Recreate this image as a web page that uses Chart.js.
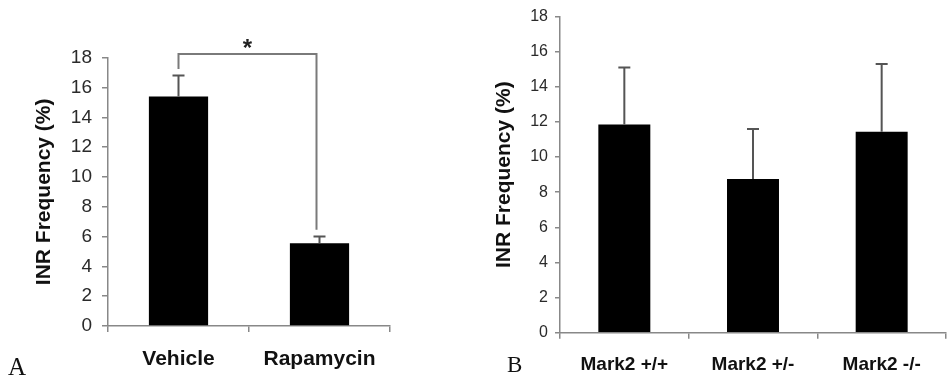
<!DOCTYPE html>
<html>
<head>
<meta charset="utf-8">
<script src="https://cdn.jsdelivr.net/npm/chart.js@4"></script>
<style>
  body { margin: 0; background: #fff; }
  #wrap { position: relative; width: 947px; height: 380px; overflow: hidden; }
  #chartA { position: absolute; left: 0; top: 0; }
  #chartB { position: absolute; left: 480px; top: 0; }
  .panel { position: absolute; font-family: 'Times New Roman', 'Liberation Serif', serif; line-height: 1; color: #111; }
</style>
</head>
<body>
<div id="wrap">
  <canvas id="chartA" width="400" height="380"></canvas>
  <canvas id="chartB" width="467" height="380"></canvas>
  <div class="panel" style="left:8px; top:354px; font-size:25px;">A</div>
  <div class="panel" style="left:507px; top:353px; font-size:23px;">B</div>
</div>
<script>
// panel A
const groupsA = ['Vehicle', 'Rapamycin'];
const meansA = [15.4, 5.55];
const errorsA = [1.4, 0.45];

// panel B
const groupsB = ['Mark2 +/+', 'Mark2 +/-', 'Mark2 -/-'];
const meansB = [11.85, 8.75, 11.45];
const errorsB = [3.25, 2.85, 3.85];

const yMin = 0, yMax = 18, yStep = 2;
const yTitle = 'INR Frequency (%)';

const FONT = "Arial, 'Liberation Sans', sans-serif";

// upper error bars, drawn through the y scale
const errorBars = {
    id: 'errorBars',
    afterDatasetsDraw(chart, args, opts) {
        const ctx = chart.ctx;
        const y = chart.scales.y;
        const meta = chart.getDatasetMeta(0);
        ctx.save();
        ctx.strokeStyle = '#555';
        ctx.lineWidth = 2;
        meta.data.forEach((bar, i) => {
            const top = y.getPixelForValue(opts.means[i] + opts.errors[i]);
            const base = y.getPixelForValue(opts.means[i]);
            ctx.beginPath();
            ctx.moveTo(bar.x, base);
            ctx.lineTo(bar.x, top);
            ctx.moveTo(bar.x - 6, top);
            ctx.lineTo(bar.x + 6, top);
            ctx.stroke();
        });
        ctx.restore();
    }
};

// significance bracket for panel A
const sigBracket = {
    id: 'sigBracket',
    afterDraw(chart, args, opts) {
        if (!opts.show) return;
        const ctx = chart.ctx;
        const y = chart.scales.y;
        const meta = chart.getDatasetMeta(0);
        const x1 = meta.data[opts.from].x;
        const x2 = meta.data[opts.to].x - 3;
        const yTop = y.getPixelForValue(opts.top);
        const y1 = y.getPixelForValue(meansA[opts.from] + errorsA[opts.from] + opts.gap);
        const y2 = y.getPixelForValue(meansA[opts.to] + errorsA[opts.to] + opts.gap);
        ctx.save();
        ctx.strokeStyle = '#7a7a7a';
        ctx.lineWidth = 2;
        ctx.beginPath();
        ctx.moveTo(x1, y1);
        ctx.lineTo(x1, yTop);
        ctx.lineTo(x2, yTop);
        ctx.lineTo(x2, y2);
        ctx.stroke();
        ctx.fillStyle = '#222';
        ctx.font = 'bold 24px ' + FONT;
        ctx.textAlign = 'center';
        ctx.textBaseline = 'middle';
        ctx.fillText(opts.label, (x1 + x2) / 2, yTop - 5);
        ctx.restore();
    }
};

function makeChart(id, labels, means, errors, cfg) {
    return new Chart(document.getElementById(id), {
        type: 'bar',
        data: {
            labels: labels,
            datasets: [{
                data: means,
                backgroundColor: '#000',
                borderWidth: 0,
                categoryPercentage: 1,
                barPercentage: cfg.barPct
            }]
        },
        options: {
            responsive: false,
            animation: false,
            layout: { padding: cfg.padding },
            plugins: {
                legend: { display: false },
                tooltip: { enabled: false },
                errorBars: { means: means, errors: errors },
                sigBracket: cfg.sig || { show: false }
            },
            scales: {
                x: {
                    afterFit(s) { s.height = cfg.xHeight; },
                    grid: { drawOnChartArea: false, tickLength: 6, color: '#888', lineWidth: 1.5 },
                    border: { color: '#888', width: 1.5 },
                    ticks: {
                        color: '#111',
                        padding: cfg.xPad,
                        font: { family: FONT, size: cfg.xFont, weight: 'bold' }
                    }
                },
                y: {
                    min: yMin,
                    max: yMax,
                    afterFit(s) { s.width = cfg.yWidth; },
                    grid: { drawOnChartArea: false, tickLength: cfg.tickLen, color: '#888', lineWidth: 1.5 },
                    border: { color: '#888', width: 1.5 },
                    ticks: {
                        stepSize: yStep,
                        color: '#2a2a2a',
                        padding: cfg.yPad,
                        font: { family: FONT, size: cfg.yFont }
                    },
                    title: {
                        display: true,
                        text: yTitle,
                        color: '#111',
                        padding: { top: cfg.titlePad, bottom: 0 },
                        font: { family: FONT, size: 21, weight: 'bold' }
                    }
                }
            }
        },
        plugins: [errorBars, sigBracket]
    });
}

makeChart('chartA', groupsA, meansA, errorsA, {
    barPct: 0.42,
    padding: { left: 0, top: 57.7, right: 10, bottom: 0 },
    xHeight: 54, xPad: 15, xFont: 21,
    yWidth: 108, yPad: 10, yFont: 19, tickLen: 6,
    titlePad: 32,
    sig: { show: true, from: 0, to: 1, top: 18.25, gap: 0.45, label: '*' }
});

makeChart('chartB', groupsB, meansB, errorsB, {
    barPct: 0.404,
    padding: { left: 0, top: 13.3, right: 1, bottom: 0 },
    xHeight: 47.3, xPad: 15, xFont: 19,
    yWidth: 80, yPad: 7, yFont: 16, tickLen: 5,
    titlePad: 12
});
</script>
</body>
</html>
